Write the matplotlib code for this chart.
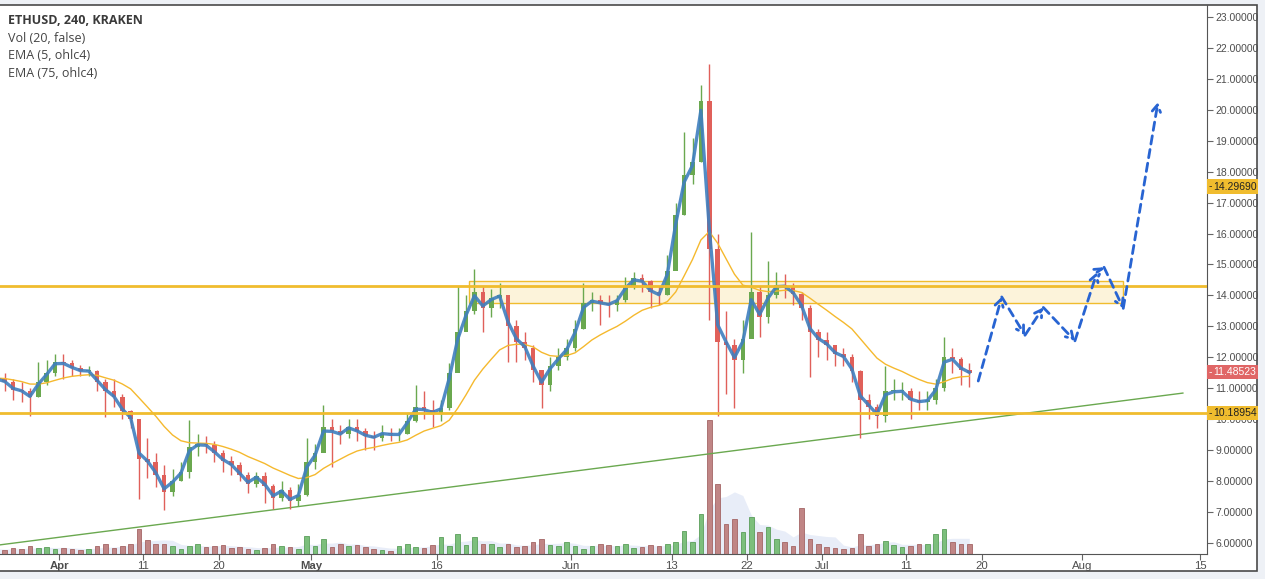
import matplotlib
matplotlib.use('Agg')
import matplotlib.pyplot as plt
import matplotlib.transforms as mtransforms
from matplotlib.patches import Rectangle
import numpy as np
import pandas as pd

# ETHUSD daily OHLC, first bar = 2016-03-24 (day -8 from Apr 1)
first_day = -8
first_open = 11.4
closes = [11.3, 11.2, 10.95, 10.9, 10.7, 11.2, 11.5, 11.85,
          11.8, 11.65, 11.55, 11.55, 11.2, 10.9, 10.7, 10.25, 10.0,
          8.7, 8.6, 8.2, 7.65, 8.0, 8.3, 9.1, 9.2, 9.15, 8.9, 8.65, 8.5,
          8.2, 7.9, 8.15, 7.85, 7.45, 7.7, 7.35, 7.55, 8.6, 8.9,
          9.75, 9.6, 9.5, 9.75, 9.6, 9.45, 9.4, 9.55, 9.5, 9.5,
          9.95, 10.4, 10.3, 10.2, 10.35, 11.5, 12.8, 13.5, 14.1, 13.6,
          13.9, 14.0, 13.0, 12.5, 12.3, 11.6, 11.1, 11.7, 12.0, 12.3,
          12.9, 13.75, 13.85, 13.75, 13.7, 13.85, 14.3, 14.55, 14.45, 14.1,
          14.0, 14.8, 16.6, 17.9, 18.3, 20.3, 15.5, 12.5, 12.4, 11.9,
          12.6, 14.1, 13.3, 14.0, 14.35, 14.3, 14.05, 13.6, 12.8, 12.55,
          12.4, 12.1, 12.0, 11.55, 10.6, 10.4, 10.1, 10.9, 10.9, 10.9,
          10.6, 10.55, 10.6, 11.0, 12.0, 11.95, 11.6, 11.485]
highs = [11.6, 11.5, 11.3, 11.2, 11.0, 11.85, 11.9, 12.1,
         12.1, 11.9, 11.75, 11.7, 11.6, 11.3, 11.3, 10.8, 10.3,
         10.0, 9.4, 8.9, 8.5, 8.4, 8.6, 9.97, 9.5, 9.45, 9.3, 9.0, 8.8,
         8.6, 8.3, 8.3, 8.3, 7.9, 8.0, 7.8, 7.9, 9.4, 9.2,
         10.45, 10.0, 9.8, 10.0, 10.0, 9.7, 9.6, 9.8, 9.7, 9.7,
         10.2, 11.1, 10.9, 10.6, 10.6, 11.8, 14.3, 14.0, 14.85, 14.3,
         14.2, 14.4, 14.0, 13.2, 12.8, 12.4, 11.6, 12.0, 12.3, 12.6,
         13.2, 14.4, 14.1, 14.0, 14.0, 14.0, 14.6, 14.75, 14.7, 14.5,
         14.3, 15.3, 17.0, 19.3, 19.1, 20.8, 21.5, 16.0, 13.5, 12.6,
         13.2, 16.05, 14.3, 15.1, 14.75, 14.7, 14.4, 14.1, 13.7, 12.9,
         12.8, 12.4, 12.3, 12.1, 11.6, 10.8, 10.5, 11.7, 11.3, 11.2,
         11.0, 10.9, 10.9, 11.3, 12.65, 12.3, 12.0, 11.8]
lows = [11.0, 10.9, 10.6, 10.55, 10.1, 10.7, 11.1, 11.4,
        11.3, 11.4, 11.4, 11.4, 10.9, 10.05, 10.4, 10.0, 9.7,
        7.4, 8.1, 7.8, 7.05, 7.5, 8.0, 8.1, 8.8, 8.9, 8.6, 8.3, 8.2,
        8.0, 7.6, 7.8, 7.3, 7.1, 7.35, 7.1, 7.2, 7.5, 8.4,
        9.1, 8.45, 9.2, 9.4, 9.3, 9.0, 9.0, 9.3, 9.3, 9.3,
        9.5, 9.9, 10.0, 9.75, 9.95, 10.3, 11.6, 12.9, 13.4, 12.8,
        13.3, 13.6, 11.85, 11.85, 11.9, 11.2, 10.35, 10.9, 11.6, 11.9,
        12.2, 12.9, 13.5, 13.05, 13.3, 13.5, 13.8, 14.2, 14.1, 13.6,
        13.7, 14.0, 15.2, 16.6, 17.6, 18.3, 13.2, 10.1, 10.8, 10.35,
        11.5, 12.7, 12.65, 13.1, 13.9, 13.9, 13.7, 13.2, 11.35, 12.0,
        11.9, 11.7, 11.7, 11.2, 9.4, 10.0, 9.7, 9.9, 10.6, 10.6,
        10.0, 10.3, 10.3, 10.5, 10.9, 11.5, 11.1, 11.05]
volumes = [5, 4, 6, 5, 8, 6, 7, 5,
           6, 5, 4, 5, 8, 10, 6, 8, 10,
           25, 14, 10, 10, 8, 5, 8, 10, 7, 8, 9, 6,
           7, 5, 4, 6, 10, 8, 7, 5, 18, 8,
           15, 7, 10, 8, 9, 7, 5, 4, 3, 8,
           10, 7, 6, 9, 17, 8, 20, 9, 17, 10,
           10, 7, 10, 7, 8, 12, 15, 9, 8, 12,
           8, 5, 8, 10, 9, 8, 10, 6, 7, 9,
           8, 10, 12, 23, 12, 40, 134, 70, 30, 35,
           22, 37, 22, 27, 15, 12, 8, 46, 15, 10,
           7, 6, 5, 6, 20, 8, 10, 13, 9, 7,
           8, 10, 10, 20, 25, 12, 10, 10]

# drawings (x = days after 2016-04-01)
res_level = 14.29690
sup_level = 10.18954
last_price = 11.48523
zone_x = [48.9, 126.8]
zone_y = [13.74, 14.47]
trend_x = [-7.07, 133.97]
trend_y = [5.93, 10.84]
proj_x = [109.57, 112.37, 115.14, 117.33, 121.10, 123.73, 124.57, 126.86, 131.0]
proj_y = [11.23, 13.95, 12.71, 13.61, 12.53, 14.75, 14.91, 13.58, 20.25]

tick_days = [0, 10, 19, 30, 45, 61, 73, 82, 91, 101, 110, 122, 136]
tick_labels = ['Apr', '11', '20', 'May', '16', 'Jun', '13', '22', 'Jul', '11', '20', 'Aug', '15']

UP, DOWN = '#6aa84f', '#e0605a'
YEL = '#f0bc2e'

c = np.array(closes)
h = np.array(highs)
l = np.array(lows)
o = np.concatenate([[first_open], c[:-1]])
x = np.arange(len(c)) + first_day + 0.5
up = c >= o
vol = np.array(volumes)

ohlc4 = pd.Series((o + h + l + c) / 4)
# on daily bars the 4h EMA(5) is practically the close
ema5 = pd.Series(c).ewm(alpha=0.85, adjust=False).mean()
ema75 = ohlc4.ewm(span=12.5, adjust=False).mean()
vol_ma = pd.Series(vol).rolling(5, min_periods=1).mean()

W, H = 1265, 579
fig = plt.figure(figsize=(W / 100, H / 100), dpi=100)
fig.patch.set_facecolor('#eef1f6')
panel = Rectangle((-0.01, (H - 571) / H), (1258 + 12) / W, (571 - 4.5) / H,
                  transform=fig.transFigure, fc='white', ec='#4a4a4a', lw=1.2, zorder=0)
fig.patches.append(panel)

rect = [0, (H - 553.7) / H, 1206.7 / W, (553.7 - 4.5) / H]
xlim = (-7.07, 136.81)
ylim = (5.644, 23.41)

# volume pane underneath
axv = fig.add_axes(rect, zorder=1)
axv.set_xlim(*xlim)
axv.set_ylim(0, vol.max() * 549 / 134)
axv.axis('off')
axv.fill_between(x, 0, vol_ma, color='#e3e9f7', alpha=0.8, lw=0)
axv.bar(x, vol, width=0.55, color=np.where(up, '#7cbf7c', '#c08585'),
        edgecolor=np.where(up, '#5a9e5a', '#a46565'), lw=0.6)

ax = fig.add_axes(rect, zorder=2)
ax.patch.set_alpha(0)
ax.set_xlim(*xlim)
ax.set_ylim(*ylim)

# zone and levels
ax.add_patch(Rectangle((zone_x[0], zone_y[0]), zone_x[1] - zone_x[0], zone_y[1] - zone_y[0],
                       fc='#fcf3da', ec=YEL, lw=1, zorder=1))
ax.plot(trend_x, trend_y, color='#6aa84f', lw=1, zorder=2)

# candles
cols = np.where(up, UP, DOWN)
ax.vlines(x, l, h, colors=cols, lw=1, zorder=3)
body = np.maximum(np.abs(c - o), 0.03)
ax.bar(x, body, bottom=np.minimum(o, c), width=0.55, color=cols, zorder=3)

ax.plot(x, ema75, color='#f5b92e', lw=1, zorder=4)
ax.plot(x, ema5, color='#3f7fbf', lw=2.4, alpha=0.9, zorder=5)

ax.axhline(res_level, color=YEL, lw=2, zorder=6)
ax.axhline(sup_level, color=YEL, lw=2, zorder=6)

# projected path
for i in range(len(proj_x) - 1):
    ax.annotate('', xy=(proj_x[i + 1], proj_y[i + 1]), xytext=(proj_x[i], proj_y[i]),
                arrowprops=dict(arrowstyle='->,head_length=0.5,head_width=0.3',
                                color='#2864d2', lw=2, linestyle=(0, (3, 2)),
                                shrinkA=0, shrinkB=0), zorder=7)

# axes styling
for s in ['left', 'top']:
    ax.spines[s].set_visible(False)
for s in ['right', 'bottom']:
    ax.spines[s].set_color('#555555')
ax.yaxis.tick_right()
ax.set_yticks(np.arange(6, 24))
ax.set_yticklabels(['%.5f' % v for v in np.arange(6, 24)])
ax.tick_params(axis='y', direction='out', length=4, color='#666666', labelsize=7.5,
               labelcolor='#4d4d4d', pad=2)
ax.set_xticks(tick_days)
ax.set_xticklabels(tick_labels)
ax.tick_params(axis='x', direction='out', length=4, color='#666666', labelsize=8.2,
               labelcolor='#4d4d4d', pad=1.5)
for lab in ax.get_xticklabels():
    lab.set_fontfamily('Liberation Sans')
    if lab.get_text() in ('Apr', 'May'):
        lab.set_fontweight('bold')
for lab in ax.get_yticklabels():
    lab.set_fontfamily('Liberation Sans')

# price tags on the scale
trans = mtransforms.blended_transform_factory(ax.transAxes, ax.transData)
tag_w = 51 / 1206.7
tag_h = 14.5 / 30.94


def tag(y, text, fc, tc):
    ax.add_patch(Rectangle((1.0, y - tag_h / 2), tag_w, tag_h, transform=trans,
                           fc=fc, ec='none', clip_on=False, zorder=10))
    ax.text(1.0 + 2 / 1206.7, y, '-', transform=trans, va='center', ha='left',
            fontsize=7.5, color=tc, clip_on=False, zorder=11, family='Liberation Sans')
    ax.text(1.0 + 7 / 1206.7, y, text, transform=trans, va='center', ha='left',
            fontsize=7.5, color=tc, clip_on=False, zorder=11, family='Liberation Sans')


tag(17.52, '%.5f' % res_level, YEL, '#222222')
tag(11.52, '%.5f' % last_price, '#e06666', 'white')
tag(10.19, '%.5f' % sup_level, YEL, '#222222')

# legend text
fig.text(8 / W, 1 - 21 / H, 'ETHUSD, 240, KRAKEN', fontsize=9, fontweight='bold',
         color='#3a3a3a', va='center', family='Open Sans')
for i, s in enumerate(['Vol (20, false)', 'EMA (5, ohlc4)', 'EMA (75, ohlc4)']):
    fig.text(8 / W, 1 - (38.5 + 17.3 * i) / H, s, fontsize=9, color='#444444',
             va='center', family='Open Sans')

fig.savefig('out.png', dpi=100, facecolor=fig.get_facecolor())
